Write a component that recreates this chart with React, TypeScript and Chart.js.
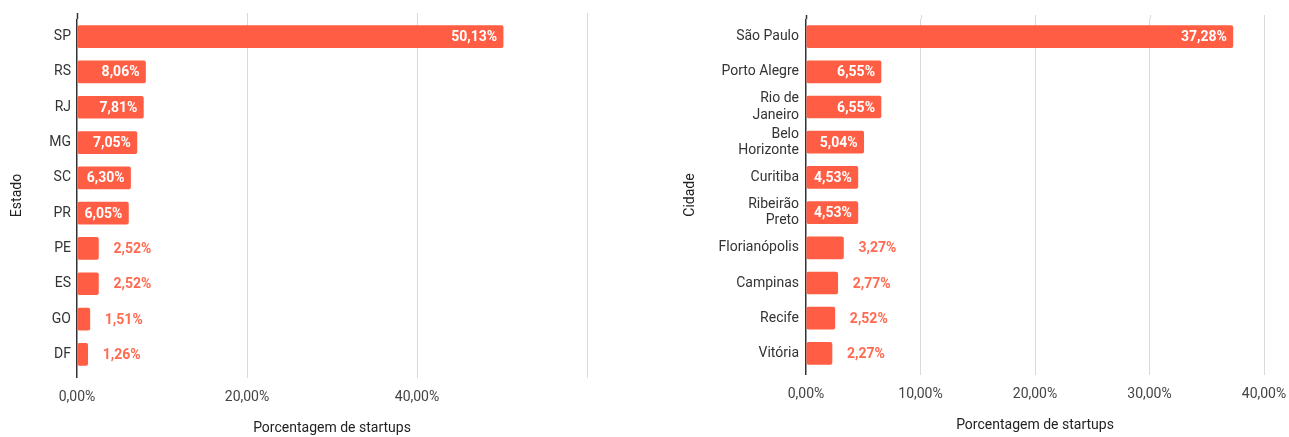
import React, { useEffect, useRef } from "react";
import { Chart, registerables } from "chart.js";

Chart.register(...registerables);

// Left chart data (Estado)
const stateLabels = ["SP", "RS", "RJ", "MG", "SC", "PR", "PE", "ES", "GO", "DF"];
const stateValues = [50.13, 8.06, 7.81, 7.05, 6.3, 6.05, 2.52, 2.52, 1.51, 1.26];
const stateTicks = [0, 20, 40, 60];
const stateTickLabels = ["0,00%", "20,00%", "40,00%", ""];

// Right chart data (Cidade)
const cityLabels = [
  "São Paulo",
  "Porto Alegre",
  ["Rio de", "Janeiro"],
  ["Belo", "Horizonte"],
  "Curitiba",
  ["Ribeirão", "Preto"],
  "Florianópolis",
  "Campinas",
  "Recife",
  "Vitória",
];
const cityValues = [37.28, 6.55, 6.55, 5.04, 4.53, 4.53, 3.27, 2.77, 2.52, 2.27];
const cityTicks = [0, 10, 20, 30, 40];
const cityTickLabels = ["0,00%", "10,00%", "20,00%", "30,00%", "40,00%"];

const BAR = "#FF5E45";
const OUT_LABEL = "#FF6A50";
const FONT = "Roboto";

const fmt = (v: number) => v.toFixed(2).replace(".", ",") + "%";

const barLabelPlugin = {
  id: "barLabels",
  afterDatasetsDraw(chart: any) {
    const ctx = chart.ctx;
    const meta = chart.getDatasetMeta(0);
    const data = chart.data.datasets[0].data as number[];
    ctx.save();
    ctx.font = `bold 14px ${FONT}`;
    ctx.textBaseline = "middle";
    meta.data.forEach((bar: any, i: number) => {
      const text = fmt(data[i]);
      const w = ctx.measureText(text).width;
      const len = bar.x - bar.base;
      if (len >= w + 12) {
        ctx.fillStyle = "#FFFFFF";
        ctx.textAlign = "right";
        ctx.fillText(text, bar.x - 6, bar.y + 1);
      } else {
        ctx.fillStyle = OUT_LABEL;
        ctx.textAlign = "left";
        ctx.fillText(text, bar.x + 15, bar.y + 1);
      }
    });
    ctx.restore();
  },
};

const gridExtendPlugin = {
  id: "gridExtend",
  beforeDatasetsDraw(chart: any, _args: any, opts: any) {
    const ctx = chart.ctx;
    const xs = chart.scales.x;
    const top = chart.chartArea.top;
    ctx.save();
    xs.ticks.forEach((t: any) => {
      const px = Math.round(xs.getPixelForValue(t.value)) + 0.5;
      ctx.strokeStyle = t.value === 0 ? "#333333" : "#DADADA";
      ctx.lineWidth = t.value === 0 ? 1.5 : 1;
      ctx.beginPath();
      ctx.moveTo(px, top - (opts.ext || 6));
      ctx.lineTo(px, top);
      ctx.stroke();
    });
    ctx.restore();
  },
};

type Cfg = {
  labels: any[];
  values: number[];
  ticks: number[];
  tickLabels: string[];
  max: number;
  step: number;
  yTitle: string;
  yWidth: number;
  yTitlePad: number;
  yTickPad: number;
  top: number;
  bottom: number;
  height: number;
  padRight: number;
  ext: number;
  xTitlePad: number;
  xTickPad: number;
};

function BarChart({ cfg, width }: { cfg: Cfg; width: number }) {
  const ref = useRef<HTMLCanvasElement | null>(null);
  useEffect(() => {
    if (!ref.current) return;
    const chart = new Chart(ref.current, {
      type: "bar",
      data: {
        labels: cfg.labels,
        datasets: [
          {
            data: cfg.values,
            backgroundColor: BAR,
            borderRadius: 2,
            borderSkipped: false,
            barThickness: 22,
          },
        ],
      },
      options: {
        indexAxis: "y",
        animation: false,
        responsive: false,
        maintainAspectRatio: false,
        layout: {
          padding: { top: cfg.top, right: cfg.padRight, bottom: 0, left: 0 },
        },
        plugins: {
          legend: { display: false },
          tooltip: { enabled: false },
          gridExtend: { ext: cfg.ext },
        } as any,
        scales: {
          x: {
            type: "linear",
            min: 0,
            max: cfg.max,
            afterBuildTicks: (s: any) => {
              s.ticks = cfg.ticks.map((v) => ({ value: v }));
            },
            afterFit: (s: any) => {
              s.height = cfg.height - cfg.bottom;
              s.paddingRight = 0;
              s.paddingLeft = 0;
            },
            ticks: {
              stepSize: cfg.step,
              color: "#444444",
              font: { family: FONT, size: 14 },
              padding: cfg.xTickPad,
              maxRotation: 0,
              callback: (v: any) => {
                const i = cfg.ticks.indexOf(Number(v));
                return i >= 0 ? cfg.tickLabels[i] : "";
              },
            },
            grid: {
              color: (c: any) => (c.tick && c.tick.value === 0 ? "#333333" : "#DADADA"),
              lineWidth: (c: any) => (c.tick && c.tick.value === 0 ? 1.5 : 1),
              drawTicks: true,
              tickLength: cfg.ext,
            },
            border: { display: false },
            title: {
              display: true,
              text: "Porcentagem de startups",
              color: "#222222",
              font: { family: FONT, size: 14 },
              padding: { top: 0, bottom: cfg.xTitlePad },
            },
          },
          y: {
            type: "category",
            afterFit: (s: any) => {
              s.width = cfg.yWidth;
            },
            ticks: {
              color: "#333333",
              font: { family: FONT, size: 14, lineHeight: 1.15 },
              padding: cfg.yTickPad,
              autoSkip: false,
            },
            grid: { display: false, drawTicks: false },
            border: { display: false },
            title: {
              display: true,
              text: cfg.yTitle,
              color: "#222222",
              font: { family: FONT, size: 14 },
              padding: { top: cfg.yTitlePad, bottom: 0 },
            },
          },
        },
      },
      plugins: [gridExtendPlugin, barLabelPlugin],
    });
    return () => chart.destroy();
  }, []);
  return <canvas ref={ref} width={width} height={cfg.height} style={{ display: "block", width, height: cfg.height }} />;
}

const leftCfg: Cfg = {
  labels: stateLabels,
  values: stateValues,
  ticks: stateTicks,
  tickLabels: stateTickLabels,
  max: 60,
  step: 20,
  yTitle: "Estado",
  yWidth: 77,
  yTitlePad: 8.6,
  yTickPad: 6,
  top: 19,
  bottom: 372,
  height: 437,
  padRight: 53,
  ext: 6,
  xTitlePad: 0.6,
  xTickPad: 11,
};

const rightCfg: Cfg = {
  labels: cityLabels,
  values: cityValues,
  ticks: cityTicks,
  tickLabels: cityTickLabels,
  max: 40,
  step: 10,
  yTitle: "Cidade",
  yWidth: 161,
  yTitlePad: 36.6,
  yTickPad: 7,
  top: 19,
  bottom: 371,
  height: 437,
  padRight: 25,
  ext: 4,
  xTitlePad: 3.6,
  xTickPad: 11,
};

export default function App() {
  return (
    <div style={{ position: "absolute", left: 0, top: 0, width: 1289, height: 437, background: "#fff" }}>
      <div style={{ position: "absolute", left: 0, top: 0 }}>
        <BarChart cfg={leftCfg} width={640} />
      </div>
      <div style={{ position: "absolute", left: 645, top: 0 }}>
        <BarChart cfg={rightCfg} width={644} />
      </div>
    </div>
  );
}
